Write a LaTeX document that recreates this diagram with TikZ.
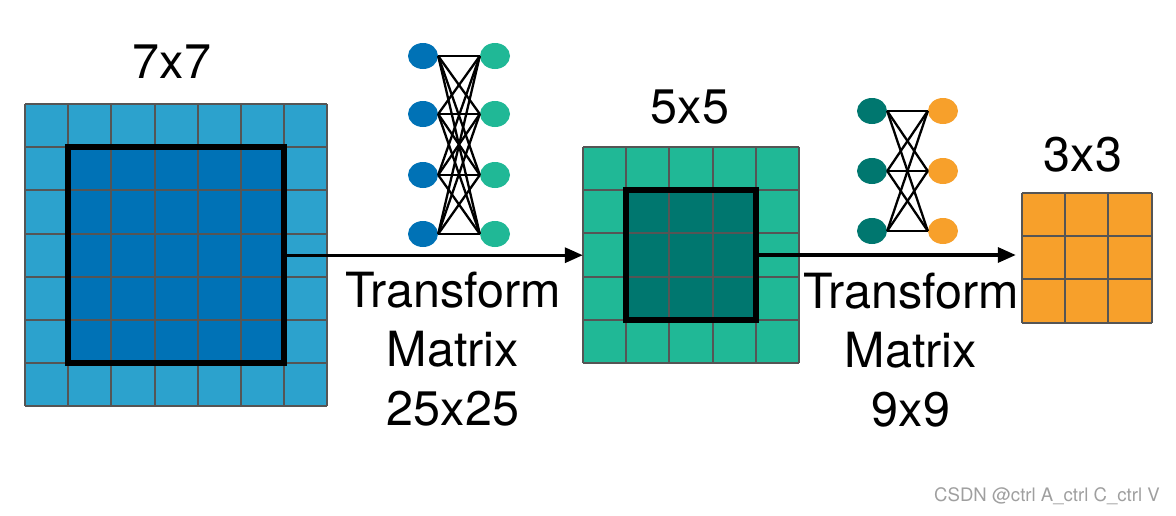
\documentclass[tikz,border=0pt]{standalone}
\usepackage{fontspec}
\setmainfont{TeX Gyre Heros}
\usetikzlibrary{shapes.geometric,arrows.meta}
\definecolor{lblue}{HTML}{2CA2CD}
\definecolor{dblue}{HTML}{0072B6}
\definecolor{lgreen}{HTML}{20B896}
\definecolor{dteal}{HTML}{00776F}
\definecolor{orng}{HTML}{F7A02B}
\definecolor{gridc}{HTML}{555555}
\begin{document}
\begin{tikzpicture}[x=1pt,y=-1pt,
  big/.style={font=\fontsize{48.5}{59}\selectfont, inner sep=0pt, align=center},
  neur/.style={ellipse, minimum width=30pt, minimum height=26pt, inner sep=0pt, draw=none},
  gline/.style={gridc, line width=2pt},
  inbox/.style={draw=black, line width=6.5pt, inner sep=0pt},
  link/.style={black, line width=2.3pt},
  flow/.style={black, line width=3.3pt, -{Triangle[length=18pt,width=15pt]}}]
\useasboundingbox (0,0) rectangle (1176,515);
\def\c{43.2}
% ---- 7x7 grid
\fill[lblue] (25,104) rectangle (327.4,406.4);
\fill[dblue] (68.2,147.2) rectangle (284.2,363.2);
\foreach \i in {0,...,7}{
  \draw[gline] (25+\i*\c,104) -- (25+\i*\c,406.4);
  \draw[gline] (25,104+\i*\c) -- (327.4,104+\i*\c);
}
\node[inbox, minimum width=216pt, minimum height=216pt] (in7) at (176.2,255.2) {};
\node[big] (t7) at (172,62) {7x7};
% ---- 5x5 grid
\fill[lgreen] (583,147) rectangle (799,363);
\fill[dteal] (626.2,190.2) rectangle (755.8,319.8);
\foreach \i in {0,...,5}{
  \draw[gline] (583+\i*\c,147) -- (583+\i*\c,363);
  \draw[gline] (583,147+\i*\c) -- (799,147+\i*\c);
}
\node[inner sep=0pt, minimum width=216pt, minimum height=216pt] (g5) at (691,255) {};
\node[inbox, minimum width=129.6pt, minimum height=129.6pt] (in5) at (691,255) {};
\node[big] (t5) at (690,107) {5x5};
% ---- 3x3 grid
\fill[orng] (1022,193) rectangle (1151.6,322.6);
\foreach \i in {0,...,3}{
  \draw[gline] (1022+\i*\c,193) -- (1022+\i*\c,322.6);
  \draw[gline] (1022,193+\i*\c) -- (1151.6,193+\i*\c);
}
\node[inner sep=0pt, minimum width=129.6pt, minimum height=129.6pt] (g3) at (1086.8,257.8) {};
\node[big] (t3) at (1083,155) {3x3};
% ---- arrows
\draw[flow] (in7.east) -- (g5.west |- in7.east);
\coordinate (e2) at ([xshift=-6pt]g3.west |- in5.east);
\draw[flow] (in5.east) -- (e2);
% ---- labels
\node[big] (m1) at (453,349) {Transform\\Matrix\\25x25};
\node[big] (m2) at (911,350) {Transform\\Matrix\\9x9};
% ---- network 1
\foreach \y [count=\k] in {56,114,175,234}{
  \node[neur, fill=dblue] (a\k) at (423,\y) {};
  \node[neur, fill=lgreen] (b\k) at (495,\y) {};
}
\foreach \i in {1,...,4}{\foreach \j in {1,...,4}{\draw[link] (a\i.east) -- (b\j.west);}}
% ---- network 2
\foreach \y [count=\k] in {111,171,231}{
  \node[neur, fill=dteal] (p\k) at (872,\y) {};
  \node[neur, fill=orng] (q\k) at (943,\y) {};
}
\foreach \i in {1,...,3}{\foreach \j in {1,...,3}{\draw[link] (p\i.east) -- (q\j.west);}}
% ---- watermark
\node[text=gray!75, font=\fontsize{18.6}{22}\selectfont, inner sep=0pt] (wm) at (1047,496) {CSDN @ctrl A\_ctrl C\_ctrl V};
\end{tikzpicture}
\end{document}
